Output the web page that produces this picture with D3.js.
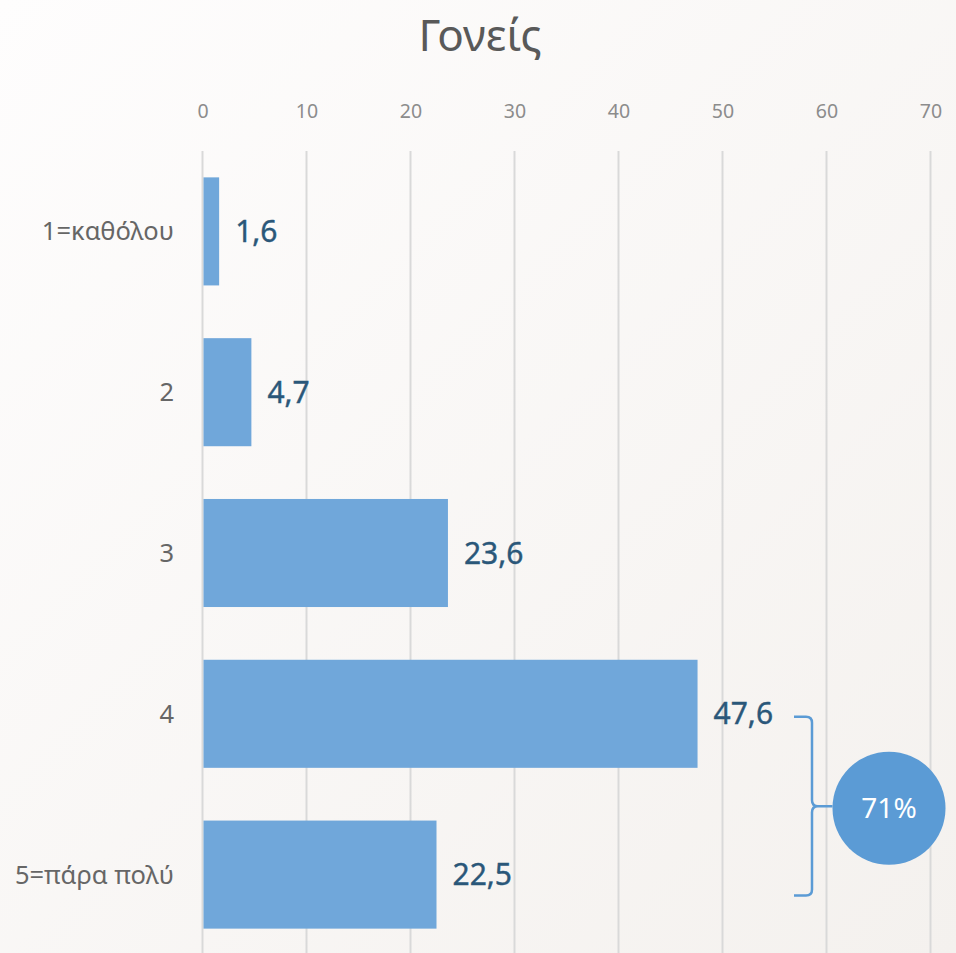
<!DOCTYPE html>
<html><head><meta charset="utf-8">
<script src="https://cdn.jsdelivr.net/npm/d3@7"></script>
<style>html,body{margin:0;padding:0;overflow:hidden}</style>
</head><body>
<script>
const categories = ["1=καθόλου", "2", "3", "4", "5=πάρα πολύ"];
const values = [1.6, 4.7, 23.6, 47.6, 22.5];
const valueLabels = ["1,6", "4,7", "23,6", "47,6", "22,5"];
const tickValues = [0, 10, 20, 30, 40, 50, 60, 70];
const title = "Γονείς";
const bracketLabel = "71%";

const W = 956, H = 953;
const font = "'Noto Sans', 'Open Sans', sans-serif";
const svg = d3.select("body").append("svg").attr("width", W).attr("height", H);
const defs = svg.append("defs");
const grad = defs.append("linearGradient").attr("id", "bg").attr("x1", "0").attr("y1", "0").attr("x2", "1").attr("y2", "1");
grad.append("stop").attr("offset", "0").attr("stop-color", "#fefdfd");
grad.append("stop").attr("offset", "1").attr("stop-color", "#f4f1ee");
svg.append("rect").attr("width", W).attr("height", H).attr("fill", "url(#bg)");

const x = d3.scaleLinear().domain([0, 70]).range([202.5, 930.5]);
const y = d3.scaleBand().domain(categories).range([151, 955]).paddingInner(0.328).paddingOuter(0.164);

// grid
svg.append("g").selectAll("line").data(tickValues).join("line")
  .attr("x1", d => x(d)).attr("x2", d => x(d)).attr("y1", 151).attr("y2", H)
  .attr("stroke", "#d9d9d9").attr("stroke-width", 2);

// top axis labels
const ax = svg.append("g").attr("transform", "translate(0,118)")
  .call(d3.axisTop(x).tickValues(tickValues).tickSize(0).tickPadding(0));
ax.select(".domain").remove();
ax.selectAll("text").attr("font-family", font).attr("font-size", 19.5).attr("fill", "#8c8c8c");

// category labels
svg.append("g").selectAll("text").data(categories).join("text")
  .attr("x", 174).attr("y", d => y(d) + y.bandwidth() / 2)
  .attr("dy", "0.35em").attr("text-anchor", "end")
  .attr("font-family", font).attr("font-size", 25.5).attr("fill", "#666666")
  .text(d => d);

// bars
svg.append("g").selectAll("rect").data(values).join("rect")
  .attr("x", x(0) + 1).attr("y", (d, i) => y(categories[i]))
  .attr("width", d => x(d) - x(0) - 1).attr("height", y.bandwidth())
  .attr("fill", "#70a7da");

// value labels
svg.append("g").selectAll("text").data(values).join("text")
  .attr("x", d => x(d) + 16).attr("y", (d, i) => y(categories[i]) + y.bandwidth() / 2)
  .attr("dy", "0.35em")
  .attr("font-family", font).attr("font-size", 30).attr("fill", "#2a5779")
  .attr("stroke", "#2a5779").attr("stroke-width", 0.4)
  .text((d, i) => valueLabels[i]);

// title
svg.append("text").attr("x", 480).attr("y", 51).attr("text-anchor", "middle")
  .attr("font-family", font).attr("font-size", 44).attr("fill", "#595959").text(title);

// bracket
const bTop = y(categories[3]) + y.bandwidth() / 2 + 3;
const bBot = y(categories[4]) + y.bandwidth() / 2 + 21;
const bMid = (bTop + bBot) / 2;
const bx0 = 794, bx = 812, r = 6, cx = 889, cr = 56.5;
const p = d3.path();
p.moveTo(bx0, bTop); p.lineTo(bx - r, bTop); p.quadraticCurveTo(bx, bTop, bx, bTop + r);
p.lineTo(bx, bMid - r); p.quadraticCurveTo(bx, bMid, bx + r, bMid); p.lineTo(cx - cr, bMid);
p.moveTo(bx + r, bMid); p.quadraticCurveTo(bx, bMid, bx, bMid + r);
p.lineTo(bx, bBot - r); p.quadraticCurveTo(bx, bBot, bx - r, bBot); p.lineTo(bx0, bBot);
svg.append("path").attr("d", p.toString()).attr("fill", "none").attr("stroke", "#5b9bd5").attr("stroke-width", 2.5);

svg.append("circle").attr("cx", cx).attr("cy", bMid + 2).attr("r", cr).attr("fill", "#5b9bd5");
svg.append("text").attr("x", cx).attr("y", bMid + 2).attr("dy", "0.35em").attr("text-anchor", "middle")
  .attr("font-family", font).attr("font-size", 28).attr("fill", "#ffffff").text(bracketLabel);
</script>
</body></html>
